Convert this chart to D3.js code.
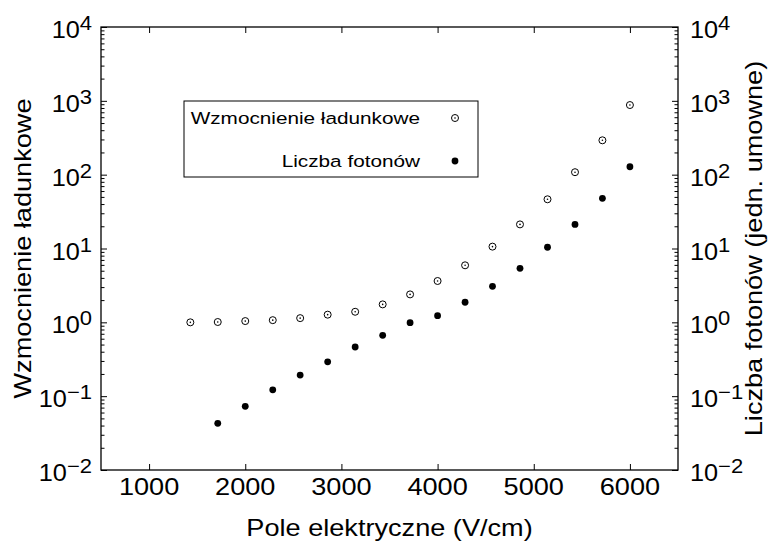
<!DOCTYPE html>
<html>
<head>
<meta charset="utf-8">
<script src="https://cdn.jsdelivr.net/npm/d3@7"></script>
<style>
  body { margin: 0; background: #fff; }
  svg { display: block; font-family: "Liberation Sans", Arial, sans-serif; }
</style>
</head>
<body>
<svg id="chart" width="772" height="545"></svg>
<script>
// ---- data ----
const fieldGain = [1429, 1714, 2000, 2286, 2571, 2857, 3143, 3429, 3714, 4000, 4286, 4571, 4857, 5143, 5429, 5714, 6000];
const gainValues = [1.00, 1.01, 1.04, 1.07, 1.14, 1.27, 1.39, 1.75, 2.39, 3.63, 5.92, 10.6, 21.2, 46.4, 108, 292, 877];
const fieldPhotons = [1714, 2000, 2286, 2571, 2857, 3143, 3429, 3714, 4000, 4286, 4571, 4857, 5143, 5429, 5714, 6000];
const photonValues = [0.0429, 0.0728, 0.122, 0.193, 0.292, 0.463, 0.667, 0.99, 1.23, 1.87, 3.07, 5.39, 10.4, 21.2, 47.8, 128];
const xTicks = [1000, 2000, 3000, 4000, 5000, 6000];
const yExponents = [-2, -1, 0, 1, 2, 3, 4];
const legendLabels = ["Wzmocnienie ładunkowe", "Liczba fotonów"];
const xTitle = "Pole elektryczne (V/cm)";
const yLeftTitle = "Wzmocnienie ładunkowe";
const yRightTitle = "Liczba fotonów (jedn. umowne)";

// ---- layout ----
const L = 101, R = 678, T = 27, B = 470;
const SX = 1.18; // horizontal glyph stretch of the reference font
const svg = d3.select("#chart");
const x = d3.scaleLinear().domain([500, 6500]).range([L, R]);
const y = d3.scaleLog().domain([1e-2, 1e4]).range([B, T]);

const majorY = yExponents.map(e => Math.pow(10, e));
const minorY = y.ticks().filter(v => !majorY.some(m => Math.abs(m - v) / m < 1e-9));

function styleAxis(g) {
  g.select(".domain").remove();
  g.selectAll(".tick line").attr("stroke", "#000").attr("stroke-width", 1);
  g.selectAll(".tick text").remove();
}

// x axes (bottom & top), ticks inward
svg.append("g").attr("transform", `translate(0,${B})`)
  .call(d3.axisBottom(x).tickValues(xTicks).tickSize(-6)).call(styleAxis);
svg.append("g").attr("transform", `translate(0,${T})`)
  .call(d3.axisTop(x).tickValues(xTicks).tickSize(-6)).call(styleAxis);
// y axes (left & right), major and minor
svg.append("g").attr("transform", `translate(${L},0)`)
  .call(d3.axisLeft(y).tickValues(majorY).tickSize(-6)).call(styleAxis);
svg.append("g").attr("transform", `translate(${L},0)`)
  .call(d3.axisLeft(y).tickValues(minorY).tickSize(-3.5)).call(styleAxis);
svg.append("g").attr("transform", `translate(${R},0)`)
  .call(d3.axisRight(y).tickValues(majorY).tickSize(-6)).call(styleAxis);
svg.append("g").attr("transform", `translate(${R},0)`)
  .call(d3.axisRight(y).tickValues(minorY).tickSize(-3.5)).call(styleAxis);

// frame
svg.append("rect").attr("x", L).attr("y", T).attr("width", R - L).attr("height", B - T)
  .attr("fill", "none").attr("stroke", "#000").attr("stroke-width", 1.3);

// x tick labels
svg.append("g").selectAll("text").data(xTicks).join("text")
  .attr("transform", d => `translate(${x(d)},${B + 25}) scale(${SX},1)`)
  .attr("text-anchor", "middle").attr("font-size", 23).attr("fill", "#000")
  .text(d => d);

// y tick labels with superscripts
function powLabel(g, anchorX, anchor) {
  g.selectAll("text").data(yExponents).join("text")
    .attr("transform", d => `translate(${anchorX},${y(Math.pow(10, d)) + 11}) scale(1.1,1)`)
    .attr("text-anchor", anchor).attr("font-size", 23).attr("fill", "#000")
    .each(function(d) {
      const t = d3.select(this);
      t.append("tspan").text("10");
      t.append("tspan").attr("dy", -8).attr("font-size", 20)
        .text(d < 0 ? "\u2212" + Math.abs(d) : String(d));
    });
}
powLabel(svg.append("g"), L - 9, "end");
powLabel(svg.append("g"), R + 12, "start");

// axis titles
svg.append("text").attr("transform", `translate(${(L + R) / 2},536) scale(${SX},1)`)
  .attr("text-anchor", "middle").attr("font-size", 23).attr("fill", "#000").text(xTitle);
svg.append("text").attr("transform", `translate(31,${(T + B) / 2}) rotate(-90) scale(${SX},1)`)
  .attr("text-anchor", "middle").attr("font-size", 23).attr("fill", "#000").text(yLeftTitle);
svg.append("text").attr("transform", `translate(762,${(T + B) / 2}) rotate(-90) scale(${SX},1)`)
  .attr("text-anchor", "middle").attr("font-size", 23).attr("fill", "#000").text(yRightTitle);

// markers
function openMarker(sel) {
  sel.append("circle").attr("r", 3.5).attr("fill", "#fff").attr("stroke", "#000").attr("stroke-width", 1);
  sel.append("circle").attr("r", 0.8).attr("fill", "#000");
}
function filledMarker(sel) {
  sel.append("circle").attr("r", 3.4).attr("fill", "#000");
}
const gainData = fieldGain.map((f, i) => ({ f, v: gainValues[i] }));
const photonData = fieldPhotons.map((f, i) => ({ f, v: photonValues[i] }));
svg.append("g").selectAll("g").data(gainData).join("g")
  .attr("transform", d => `translate(${x(d.f)},${y(d.v)})`).call(openMarker);
svg.append("g").selectAll("g").data(photonData).join("g")
  .attr("transform", d => `translate(${x(d.f)},${y(d.v)})`).call(filledMarker);

// legend
const lg = svg.append("g");
lg.append("rect").attr("x", 184).attr("y", 101).attr("width", 294).attr("height", 76)
  .attr("fill", "#fff").attr("stroke", "#000").attr("stroke-width", 1);
const rowsY = [118, 161];
legendLabels.forEach((lab, i) => {
  lg.append("text").attr("transform", `translate(420,${rowsY[i] + 6}) scale(1.22,1)`)
    .attr("text-anchor", "end").attr("font-size", 17).attr("fill", "#000").text(lab);
  const m = lg.append("g").attr("transform", `translate(455,${rowsY[i]})`);
  if (i === 0) openMarker(m); else filledMarker(m);
});
</script>
</body>
</html>
